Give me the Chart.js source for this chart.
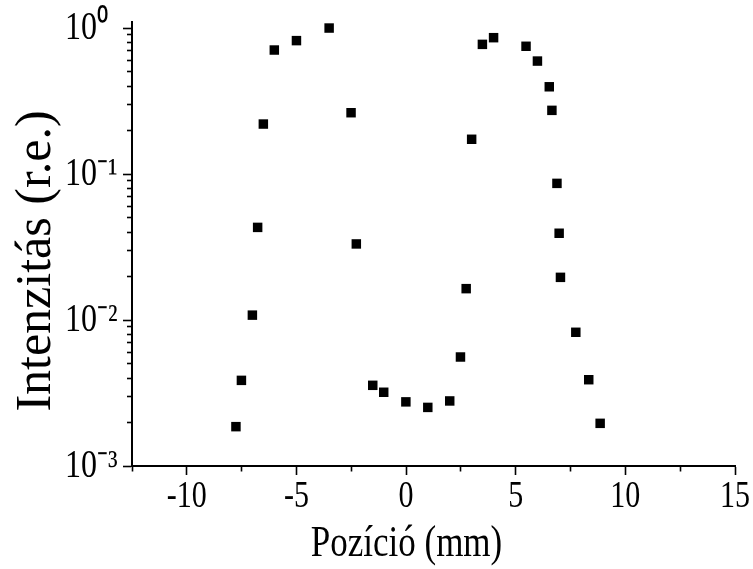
<!DOCTYPE html>
<html>
<head>
<meta charset="utf-8">
<script src="https://cdn.jsdelivr.net/npm/chart.js@4.4.1/dist/chart.umd.min.js"></script>
<style>
  html, body { margin: 0; padding: 0; background: #ffffff; }
  #wrap { width: 753px; height: 569px; }
</style>
</head>
<body>
<div id="wrap"><canvas id="c" width="753" height="569"></canvas></div>
<script>
// Position (mm)
const positions = [-7.76, -7.51, -7.01, -6.77, -6.51, -6.01, -5.0, -3.51, -2.51, -2.27,
                   -1.52, -1.02, -0.01, 0.99, 1.99, 2.48, 2.74, 2.99, 3.48, 3.99,
                   5.47, 5.99, 6.53, 6.65, 6.88, 6.98, 7.04, 7.74, 8.33, 8.85];
// Intensity (r.e.)
const intensities = [0.00186, 0.00386, 0.0108, 0.0431, 0.22, 0.707, 0.82, 1.0, 0.263, 0.0332,
                     0.00357, 0.0032, 0.00275, 0.00252, 0.00279, 0.00558, 0.0164, 0.173, 0.773, 0.859,
                     0.75, 0.594, 0.396, 0.273, 0.0863, 0.0393, 0.0196, 0.00824, 0.0039, 0.00196];
// Axis ticks
const xTickLabels = [-10, -5, 0, 5, 10, 15];
const yDecades = [0.001, 0.01, 0.1, 1];
const yDecadeLabels = ['10\u207B\u00B3', '10\u207B\u00B2', '10\u207B\u00B9', '10\u2070'];

const points = positions.map((x, i) => ({ x: x, y: intensities[i] }));
const FONT = "'Liberation Serif', 'Times New Roman', serif";

// The reference typesetting is taller than the plain font: stretch glyphs along the
// vertical screen direction (text itself is still drawn by Chart.js as real text).
const STRETCH = 1.25;
const TITLE_SHIFT = { x: -27, y: -17 };
const TITLE_STRETCH = { x: STRETCH, y: 1 };
const LABEL_SHIFT = { x: 0, y: 65 };
function withTextTransform(ctx, shift, k, fn) {
  ctx.rotate = function (a) {
    CanvasRenderingContext2D.prototype.rotate.call(this, a);
    if (shift) this.translate(shift, 0);
    if (Math.abs(Math.sin(a)) > 0.5) this.scale(k, 1); else this.scale(1, k);
  };
  try { fn(); } finally { delete ctx.rotate; }
}
const origDrawLabels = Chart.Scale.prototype.drawLabels;
Chart.Scale.prototype.drawLabels = function (area) {
  withTextTransform(this.ctx, LABEL_SHIFT[this.id] || 0, STRETCH, () => origDrawLabels.call(this, area));
};
const origDrawTitle = Chart.Scale.prototype.drawTitle;
Chart.Scale.prototype.drawTitle = function () {
  withTextTransform(this.ctx, TITLE_SHIFT[this.id] || 0, TITLE_STRETCH[this.id] || 1,
    () => origDrawTitle.call(this));
};

function isDecade(v) {
  return yDecades.some(d => Math.abs(v - d) / d < 1e-6);
}

new Chart(document.getElementById('c'), {
  type: 'scatter',
  data: {
    datasets: [{
      data: points,
      pointStyle: 'rect',
      pointRadius: 6.7,
      pointHoverRadius: 6.7,
      backgroundColor: '#000000',
      borderColor: '#000000',
      borderWidth: 0
    }]
  },
  options: {
    responsive: false,
    animation: false,
    events: [],
    layout: { padding: { top: 22, right: 18, left: 0, bottom: 0 } },
    plugins: { legend: { display: false }, tooltip: { enabled: false } },
    scales: {
      x: {
        type: 'linear',
        min: -12.5,
        max: 15,
        afterFit: s => { s.height = 103; },
        afterBuildTicks: s => {
          const t = [];
          for (let v = -12.5; v <= 15.0001; v += 2.5) t.push({ value: Math.round(v * 10) / 10 });
          s.ticks = t;
        },
        ticks: {
          autoSkip: false,
          maxRotation: 0,
          padding: 0,
          color: '#000',
          font: { family: FONT, size: 30 },
          callback: v => (xTickLabels.includes(v) ? String(v) : '')
        },
        grid: {
          display: true,
          drawOnChartArea: false,
          drawTicks: true,
          tickLength: 9,
          tickWidth: 1.6,
          tickColor: '#000',
          color: '#000',
          tickBorderDash: ctx => (ctx.tick && xTickLabels.includes(ctx.tick.value) ? [] : [4.5, 100])
        },
        border: { display: true, color: '#000', width: 2 },
        title: {
          display: true,
          text: 'Pozíció (mm)',
          color: '#000',
          font: { family: FONT, size: 35 },
          padding: { top: 0, bottom: 3 }
        }
      },
      y: {
        type: 'logarithmic',
        min: 0.001,
        max: 1.1,
        afterFit: s => { s.width = 132; s.paddingTop = 0; s.paddingBottom = 0; },
        afterBuildTicks: s => {
          const t = [];
          for (let e = -3; e <= 0; e++) {
            for (let m = 1; m <= 9; m++) {
              const v = m * Math.pow(10, e);
              if (v <= 1.1) t.push({ value: v, major: m === 1 });
            }
          }
          s.ticks = t;
        },
        ticks: {
          autoSkip: false,
          crossAlign: 'far',
          padding: 20,
          color: '#000',
          font: { family: FONT, size: 32 },
          callback: v => {
            const i = yDecades.findIndex(d => Math.abs(v - d) / d < 1e-6);
            return i >= 0 ? yDecadeLabels[i] : '';
          }
        },
        grid: {
          display: true,
          drawOnChartArea: false,
          drawTicks: true,
          tickLength: 9,
          tickWidth: 1.6,
          tickColor: '#000',
          color: '#000',
          tickBorderDash: ctx => (ctx.tick && isDecade(ctx.tick.value) ? [] : [5, 4]),
          tickBorderDashOffset: ctx => (ctx.tick && isDecade(ctx.tick.value) ? 0 : 5)
        },
        border: { display: true, color: '#000', width: 2 },
        title: {
          display: true,
          text: 'Intenzitás (r.e.)',
          color: '#000',
          font: { family: FONT, size: 50 },
          padding: { top: 7, bottom: 0 }
        }
      }
    }
  }
});
</script>
</body>
</html>
